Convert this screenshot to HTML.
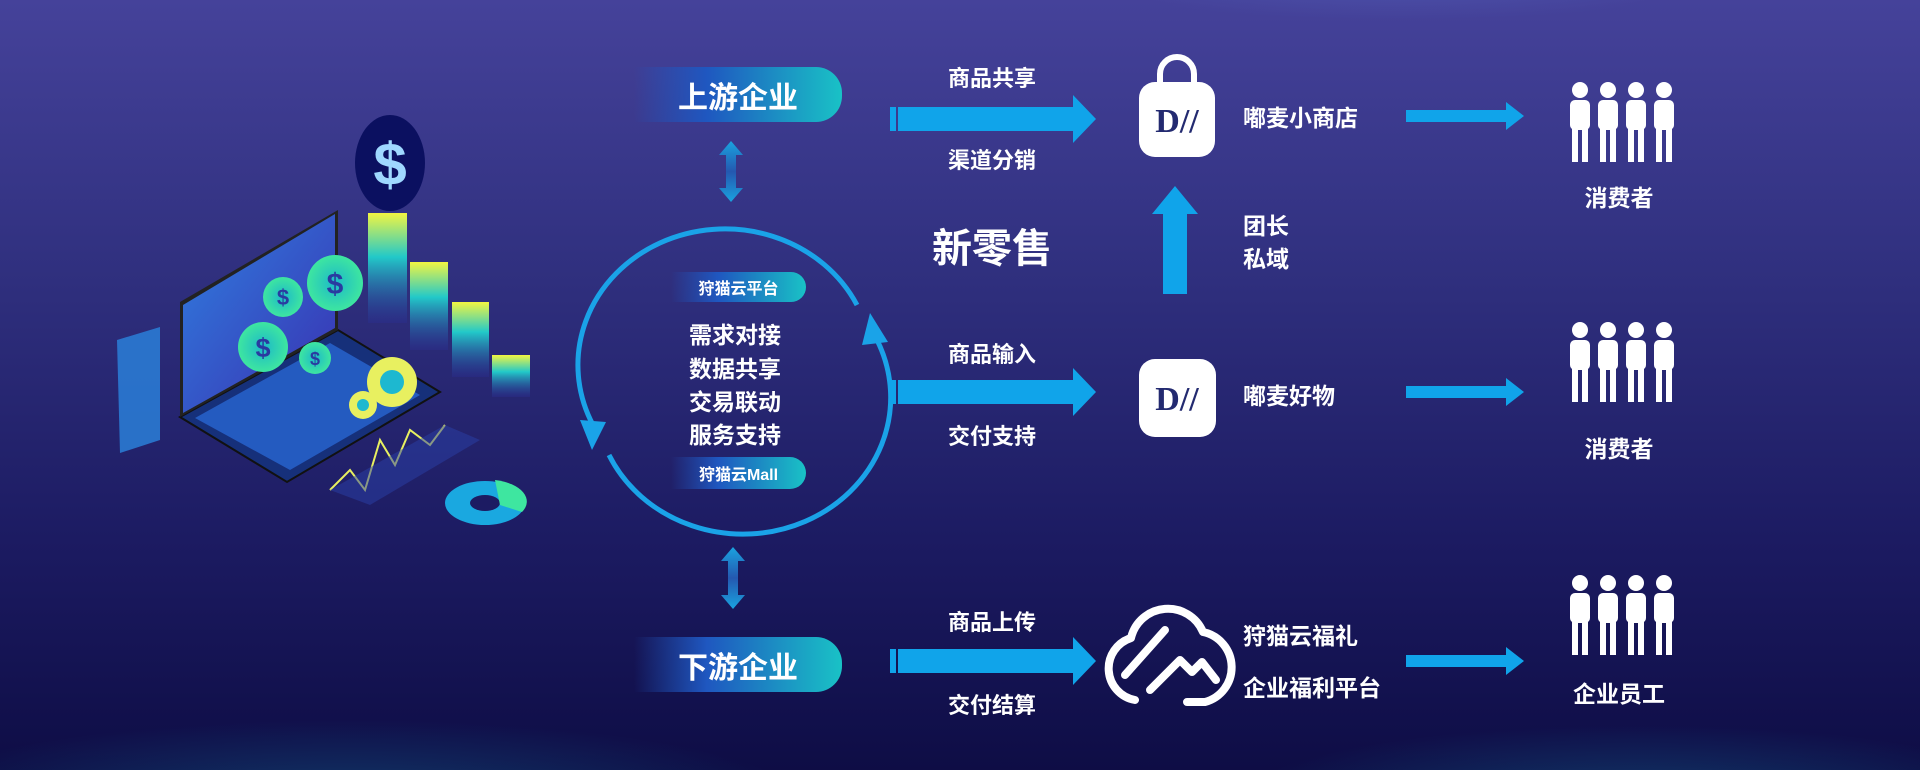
<!DOCTYPE html>
<html style="background:#0e0d45;height:770px;overflow:hidden"><head><meta charset="utf-8"><style>
*{margin:0;padding:0;box-sizing:border-box}
body{width:1920px;height:770px;overflow:hidden;position:relative;font-family:"Liberation Sans","Noto Sans CJK SC",sans-serif;color:#fff;
background:radial-gradient(ellipse 450px 80px at 350px 800px,rgba(20,110,150,.45),rgba(20,60,120,0)),radial-gradient(ellipse 400px 75px at 1640px 800px,rgba(20,110,150,.45),rgba(20,60,120,0)),radial-gradient(ellipse 300px 40px at 1400px -20px,rgba(90,110,200,.35),rgba(0,0,0,0)),linear-gradient(180deg,#45429a 0%,#30307f 35%,#1c1b62 70%,#0e0d45 100%);}
.t{position:absolute;white-space:nowrap;transform:translate(-50%,-50%);font-weight:bold}
.l{position:absolute;white-space:nowrap;transform:translateY(-50%);font-weight:bold}
.pill{position:absolute;border-radius:0 26px 26px 0;background:linear-gradient(90deg,rgba(30,60,160,0) 0%,#1f57c0 35%,#19c2c6 100%);display:flex;align-items:center;justify-content:center;font-weight:bold}
</style></head><body>
<svg width="1920" height="770" style="position:absolute;left:0;top:0;display:block">
<defs>
<linearGradient id="bar" x1="0" y1="0" x2="0" y2="1"><stop offset="0" stop-color="#f2f542"/><stop offset=".4" stop-color="#22c9c9"/><stop offset="1" stop-color="#2a2f9a" stop-opacity=".3"/></linearGradient>
<linearGradient id="scr" x1="0" y1="0" x2="1" y2="1"><stop offset="0" stop-color="#2f7fe0"/><stop offset="1" stop-color="#3a2fb0"/></linearGradient>
<radialGradient id="coin"><stop offset="0" stop-color="#1cb9c9"/><stop offset="1" stop-color="#3ee6a0"/></radialGradient>
<linearGradient id="ud" x1="0" y1="0" x2="0" y2="1"><stop offset="0" stop-color="#1aa3e0"/><stop offset=".5" stop-color="#2458b0"/><stop offset="1" stop-color="#1aa3e0"/></linearGradient>
</defs>
<polygon points="180,417 338,330 440,392 287,482" fill="#16307a" stroke="#111" stroke-width="2"/>
<polygon points="195,418 330,343 420,395 290,470" fill="#2a6ad8" opacity=".75"/>
<polygon points="180,302 338,210 338,330 180,417" fill="#222" />
<polygon points="183,305 335,214 335,328 183,413" fill="url(#scr)"/>
<ellipse cx="335" cy="283" rx="28" ry="28" fill="url(#coin)"/><text x="335" y="294" font-size="30" fill="#2a3aa0" text-anchor="middle" font-weight="bold">$</text>
<ellipse cx="283" cy="297" rx="20" ry="20" fill="url(#coin)"/><text x="283" y="305" font-size="22" fill="#2a3aa0" text-anchor="middle" font-weight="bold">$</text>
<ellipse cx="263" cy="347" rx="25" ry="25" fill="url(#coin)"/><text x="263" y="357" font-size="27" fill="#2a3aa0" text-anchor="middle" font-weight="bold">$</text>
<ellipse cx="315" cy="358" rx="16" ry="16" fill="url(#coin)"/><text x="315" y="365" font-size="18" fill="#2a3aa0" text-anchor="middle" font-weight="bold">$</text>
<rect x="368" y="213" width="39" height="110" fill="url(#bar)"/>
<rect x="410" y="262" width="38" height="88" fill="url(#bar)"/>
<rect x="452" y="302" width="37" height="75" fill="url(#bar)"/>
<rect x="492" y="355" width="38" height="42" fill="url(#bar)"/>
<ellipse cx="390" cy="163" rx="35" ry="48" fill="#0b1060"/>
<text x="390" y="185" font-size="60" fill="#9fd8ff" text-anchor="middle" font-weight="bold">$</text>
<circle cx="392" cy="382" r="25" fill="#e8f060"/><circle cx="392" cy="382" r="12" fill="#1db8d0"/>
<circle cx="363" cy="405" r="14" fill="#e8f060"/><circle cx="363" cy="405" r="6" fill="#1db8d0"/>
<polygon points="117,340 160,327 160,440 120,453" fill="#2a7fd8" opacity=".85"/>
<polyline points="330,490 350,470 365,490 380,440 395,465 410,430 430,445 445,425" fill="none" stroke="#e8f060" stroke-width="2"/>
<polygon points="330,490 445,425 480,440 370,505" fill="#2a3fa8" opacity=".5"/>
<ellipse cx="485" cy="503" rx="40" ry="22" fill="#1aa8e0"/><ellipse cx="485" cy="503" rx="15" ry="8" fill="#1c1b62"/>
<path d="M495,480 A40,22 0 0 1 522,512 L500,505 Z" fill="#3ee6a0"/>

<g fill="url(#ud)"><polygon points="731,141 743,155 736,155 736,188 743,188 731,202 719,188 726,188 726,155 719,155"/>
<polygon points="733,547 745,561 738,561 738,595 745,595 733,609 721,595 728,595 728,561 721,561"/></g>
<path d="M593,425 A147,136 0 0 1 857,305" fill="none" stroke="#1aa3e8" stroke-width="5"/>
<path d="M877,340 A147,136 0 0 1 609,455" fill="none" stroke="#1aa3e8" stroke-width="5"/>
<polygon points="870,313 862,345 888,342" fill="#1aa3e8"/>
<polygon points="592,450 580,420 606,422" fill="#1aa3e8"/>
<g fill="#10a4ea">
<rect x="890" y="107" width="6" height="24"/><rect x="898" y="107" width="175" height="24"/><polygon points="1073,95 1096,119 1073,143"/>
<rect x="890" y="380" width="6" height="24"/><rect x="898" y="380" width="175" height="24"/><polygon points="1073,368 1096,392 1073,416"/>
<rect x="890" y="649" width="6" height="24"/><rect x="898" y="649" width="175" height="24"/><polygon points="1073,637 1096,661 1073,685"/>
<polygon points="1175,186 1198,214 1187,214 1187,294 1163,294 1163,214 1152,214"/>
<rect x="1406" y="110" width="100" height="12"/><polygon points="1506,102 1524,116 1506,130"/>
<rect x="1406" y="386" width="100" height="12"/><polygon points="1506,378 1524,392 1506,406"/>
<rect x="1406" y="655" width="100" height="12"/><polygon points="1506,647 1524,661 1506,675"/>
</g>
<path d="M1160,85 V74 a17,17 0 0 1 34,0 V85" fill="none" stroke="#fff" stroke-width="6"/>
<rect x="1139" y="82" width="76" height="75" rx="16" fill="#fff"/>
<text x="1177" y="132" font-family="Liberation Serif" font-size="34" font-weight="bold" fill="#232a70" text-anchor="middle">D//</text>
<rect x="1139" y="359" width="77" height="78" rx="16" fill="#fff"/>
<text x="1177" y="410" font-family="Liberation Serif" font-size="34" font-weight="bold" fill="#232a70" text-anchor="middle">D//</text>
<path d="M1135,700 a32,32 0 0 1 -4,-62 a38,38 0 0 1 72,-6 a36,36 0 0 1 2,70 h-18 M1125,675 l40,-45 M1150,690 l30,-30 l12,12 l10,-10 l14,18" fill="none" stroke="#fff" stroke-width="8" stroke-linecap="round" stroke-linejoin="round"/>
<g id="pp" fill="#fff">
<g><circle cx="1580" cy="90" r="8"/><rect x="1570" y="100" width="20" height="30" rx="5"/><rect x="1572" y="126" width="6" height="36"/><rect x="1582" y="126" width="6" height="36"/></g>
<g><circle cx="1608" cy="90" r="8"/><rect x="1598" y="100" width="20" height="30" rx="5"/><rect x="1600" y="126" width="6" height="36"/><rect x="1610" y="126" width="6" height="36"/></g>
<g><circle cx="1636" cy="90" r="8"/><rect x="1626" y="100" width="20" height="30" rx="5"/><rect x="1628" y="126" width="6" height="36"/><rect x="1638" y="126" width="6" height="36"/></g>
<g><circle cx="1664" cy="90" r="8"/><rect x="1654" y="100" width="20" height="30" rx="5"/><rect x="1656" y="126" width="6" height="36"/><rect x="1666" y="126" width="6" height="36"/></g>
</g>
<use href="#pp" y="240"/>
<use href="#pp" y="493"/>
</svg>

<div class="pill" style="left:634px;top:67px;width:208px;height:55px;font-size:30px">上游企业</div>
<div class="pill" style="left:634px;top:637px;width:208px;height:55px;font-size:30px">下游企业</div>
<div class="pill" style="left:671px;top:272px;width:135px;height:30px;font-size:16px">狩猫云平台</div>
<div class="pill" style="left:671px;top:457px;width:135px;height:32px;font-size:16px">狩猫云Mall</div>
<div class="t" style="left:735px;top:333px;font-size:23px">需求对接</div>
<div class="t" style="left:735px;top:367px;font-size:23px">数据共享</div>
<div class="t" style="left:735px;top:400px;font-size:23px">交易联动</div>
<div class="t" style="left:735px;top:433px;font-size:23px">服务支持</div>

<div class="t" style="left:992px;top:77px;font-size:22px">商品共享</div>
<div class="t" style="left:992px;top:159px;font-size:22px">渠道分销</div>
<div class="t" style="left:992px;top:245px;font-size:40px">新零售</div>
<div class="t" style="left:992px;top:353px;font-size:22px">商品输入</div>
<div class="t" style="left:992px;top:435px;font-size:22px">交付支持</div>
<div class="t" style="left:992px;top:621px;font-size:22px">商品上传</div>
<div class="t" style="left:992px;top:704px;font-size:22px">交付结算</div>

<div class="l" style="left:1243px;top:116px;font-size:23px">嘟麦小商店</div>
<div class="l" style="left:1243px;top:224px;font-size:23px">团长</div>
<div class="l" style="left:1243px;top:257px;font-size:23px">私域</div>
<div class="l" style="left:1243px;top:394px;font-size:23px">嘟麦好物</div>
<div class="l" style="left:1243px;top:634px;font-size:23px">狩猫云福礼</div>
<div class="l" style="left:1243px;top:686px;font-size:23px">企业福利平台</div>

<div class="t" style="left:1619px;top:196px;font-size:23px">消费者</div>
<div class="t" style="left:1619px;top:447px;font-size:23px">消费者</div>
<div class="t" style="left:1619px;top:692px;font-size:23px">企业员工</div>
</body></html>
